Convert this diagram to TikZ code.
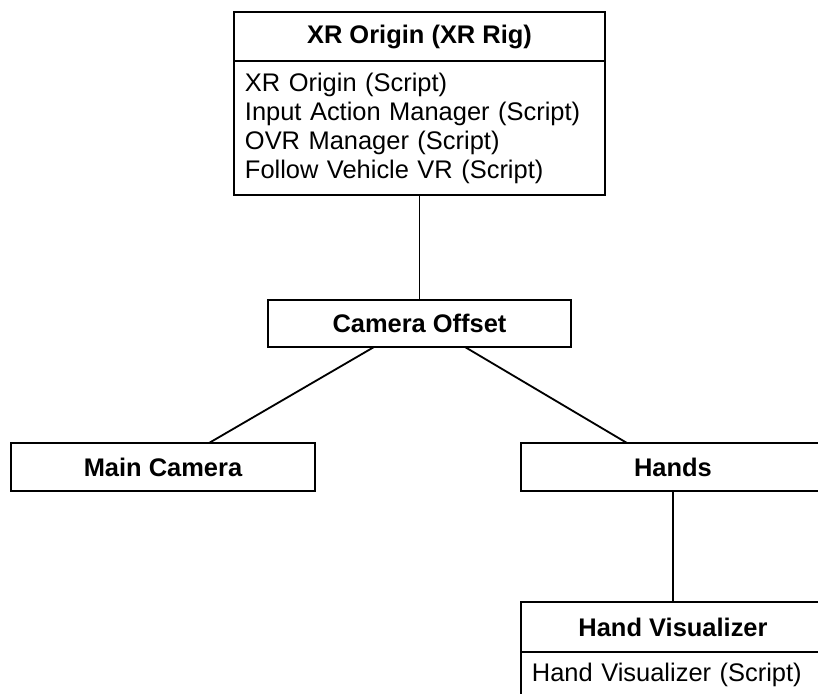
\documentclass[tikz,border=0pt]{standalone}
\usepackage{fontspec}
\setmainfont{Liberation Sans}
\usetikzlibrary{positioning}
\tikzset{
  objbase/.style={rectangle, draw=black, line width=1.3pt, outer sep=0pt,
                  font=\fontsize{18.1}{20.6}\selectfont},
  objhead/.style={objbase, font=\fontsize{18.1}{20.6}\selectfont\bfseries,
                  minimum width=7.6cm, minimum height=1.2cm, inner sep=0pt},
  objbody/.style={objbase, text width=7.05cm, align=left, inner xsep=0.275cm,
                  inner ysep=0pt},
  link/.style={line width=1.3pt, draw=black},
}

\begin{document}
\begin{tikzpicture}[x=0.025cm, y=-0.025cm]
  \useasboundingbox (0,0) rectangle (818,693);
  \clip (0,0) rectangle (818,693);

  % XR rig with its scripts
  \node[objhead, minimum width=9.275cm, minimum height=1.225cm] (rig) at (419.5,36.5) {XR Origin (XR Rig)};
  \node[objbody, below=0pt of rig, text width=8.725cm, minimum height=3.35cm] (rigbody)
    {XR Origin (Script)\\Input Action Manager (Script)\\OVR Manager (Script)\\Follow Vehicle VR (Script)};

  % children
  \node[objhead, minimum width=7.575cm, minimum height=1.175cm, below=2.625cm of rigbody] (offset) {Camera Offset};
  \node[objhead] (maincam) at (163,467) {Main Camera};
  \node[objhead] (hands)   at (673,467) {Hands};
  \node[objhead, minimum height=1.25cm, below=2.775cm of hands] (handvis) {Hand Visualizer};
  \node[objbody, below=0pt of handvis, text height=0.74cm, text depth=0.55cm] (handvisbody)
    {Hand Visualizer (Script)};

  \draw[link] (rigbody) -- (offset);
  \draw[link] ([xshift=-1.14cm]offset.south) -- ([xshift=1.15cm]maincam.north);
  \draw[link] ([xshift=1.14cm]offset.south)  -- ([xshift=-1.15cm]hands.north);
  \draw[link] (hands) -- (handvis);
\end{tikzpicture}
\end{document}
